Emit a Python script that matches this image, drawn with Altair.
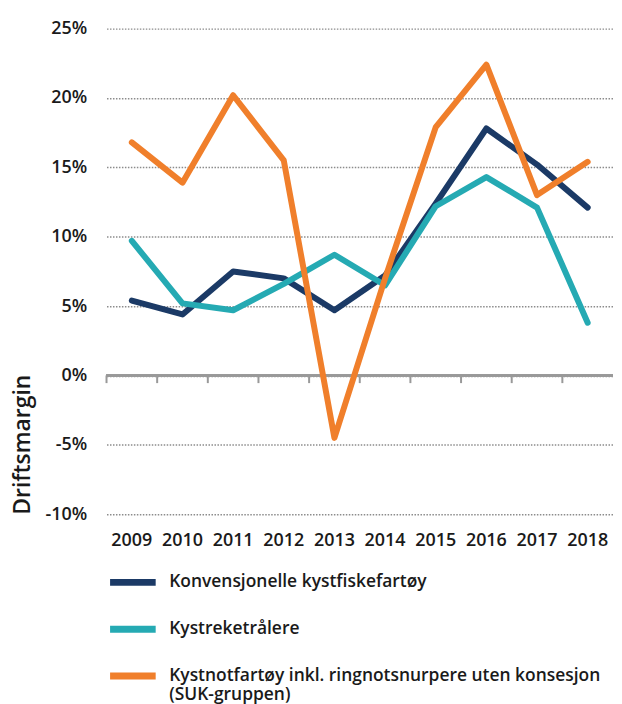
import altair as alt
import pandas as pd

years = ["2009", "2010", "2011", "2012", "2013", "2014", "2015", "2016", "2017", "2018"]
series_names = [
    "Konvensjonelle kystfiskefartøy",
    "Kystreketrålere",
    "Kystnotfartøy inkl. ringnotsnurpere uten konsesjon (SUK-gruppen)",
]
konvensjonelle = [5.4, 4.4, 7.5, 7.0, 4.7, 7.2, 12.4, 17.8, 15.2, 12.1]
kystreketralere = [9.7, 5.2, 4.7, 6.6, 8.7, 6.5, 12.2, 14.3, 12.1, 3.8]
kystnot = [16.8, 13.9, 20.2, 15.5, -4.5, 7.0, 17.9, 22.4, 13.0, 15.4]
colors = ["#1b3a66", "#25aab3", "#f07f2b"]
y_ticks = [-10, -5, 0, 5, 10, 15, 20, 25]

rows = []
for name, vals in zip(series_names, [konvensjonelle, kystreketralere, kystnot]):
    for i, (yr, v) in enumerate(zip(years, vals)):
        rows.append({"year": yr, "value": v, "series": name, "order": i})
df = pd.DataFrame(rows)
ticks_df = pd.DataFrame({"year": years})

FONT = "Open Sans"

xscale = alt.Scale(type="band", paddingInner=0, paddingOuter=0, domain=years)
yscale = alt.Scale(domain=[-10, 25], nice=False, zero=False)

x_axis = alt.Axis(title=None, domain=False, ticks=False, labelAngle=0, bandPosition=0.5,
                  labelFontSize=18, labelFont=FONT, labelFontWeight=600,
                  labelColor="#1a1a1a", labelPadding=17)

lines = alt.Chart(df).mark_line(strokeWidth=6, strokeCap="round", strokeJoin="round").encode(
    x=alt.X("year:O", scale=xscale, bandPosition=0.5, axis=x_axis),
    y=alt.Y("value:Q", scale=yscale,
            axis=alt.Axis(values=y_ticks, labelExpr="datum.value + '%'",
                          title="Driftsmargin", titleAnchor="start", titleFontSize=23,
                          titleFont=FONT, titleFontWeight=600, titleColor="#1a1a1a",
                          titlePadding=10,
                          domain=False, ticks=False, labelFontSize=18, labelFont=FONT,
                          labelFontWeight=600, labelColor="#1a1a1a", labelPadding=20,
                          grid=True, gridDash=[1.5, 1.5], gridColor="#8c8c8c", gridWidth=1.5)),
    color=alt.Color("series:N", scale=alt.Scale(domain=series_names, range=colors),
                    legend=alt.Legend(title=None, orient="none", legendX=0, legendY=530,
                                      direction="vertical", symbolType="stroke",
                                      symbolStrokeWidth=7, symbolSize=2100,
                                      labelFontSize=17.5, labelFont=FONT, labelFontWeight=600,
                                      labelColor="#1a1a1a", labelLimit=700, rowPadding=6,
                                      labelOffset=10,
                                      labelExpr="datum.label == 'Kystnotfartøy inkl. ringnotsnurpere uten konsesjon (SUK-gruppen)' ? [' Kystnotfartøy inkl. ringnotsnurpere uten konsesjon', '(SUK-gruppen)'] : datum.label")),
    order="order:Q",
)

zero = alt.Chart(ticks_df).mark_rule(color="#999999", strokeWidth=2).encode(
    y=alt.datum(0, type="quantitative", scale=yscale),
)

tick_marks = alt.Chart(ticks_df).mark_rule(color="#999999", strokeWidth=2).encode(
    x=alt.X("year:O", scale=xscale, bandPosition=0, axis=x_axis),
    y=alt.datum(0, type="quantitative"),
    y2=alt.datum(-0.55),
)

chart = alt.layer(zero, tick_marks, lines).properties(
    width=509, height=488,
    padding={"left": 4, "top": 10, "right": 0, "bottom": 0},
).configure(font=FONT).configure_view(stroke=None)

chart.save("out.html", embed_options={"renderer": "svg", "actions": False})
